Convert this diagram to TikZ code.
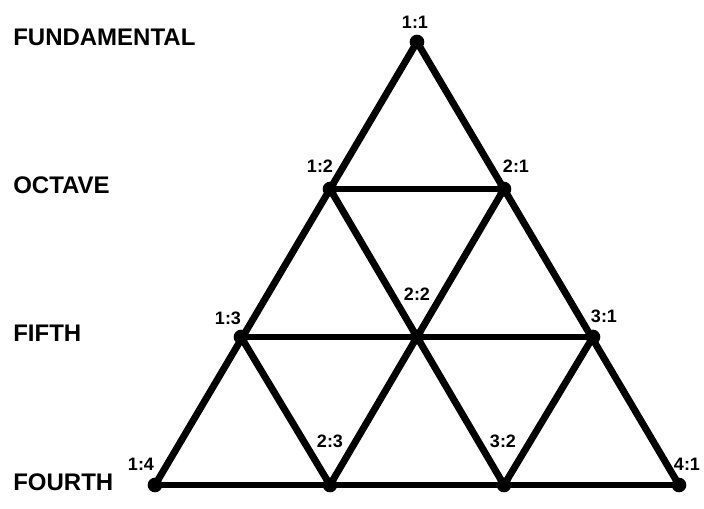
\documentclass[tikz,border=0pt]{standalone}
\usepackage{fontspec}
\setmainfont{Liberation Sans}
\begin{document}
\begin{tikzpicture}[x=0.75pt, y=-0.75pt,
  dot/.style={circle, fill=black, inner sep=0pt, minimum size=11pt},
  edge/.style={line width=5.2pt},
  ratio/.style={font=\fontsize{13.5}{15}\selectfont\bfseries, inner sep=0pt},
  level/.style={font=\fontsize{18}{20}\selectfont\bfseries, inner sep=0pt, anchor=west}]
\useasboundingbox (0,0) rectangle (704,508);

% Row names
\node[level] (fund) at (13,37.5) {FUNDAMENTAL};
\node[level] (oct) at (13,185) {OCTAVE};
\node[level] (fifth) at (13,333) {FIFTH};
\node[level] (fourth) at (13,482) {FOURTH};

% Points (a:b) with label offset
\foreach \a/\b/\x/\y/\dx/\dy in {
  1/1/417/42/-2/-20,
  1/2/330/189/-10/-23,
  2/1/504/189/12/-23,
  1/3/241/337/-13/-19,
  2/2/417/337/0/-43,
  3/1/593/337/11/-21,
  1/4/155/485/-14/-21,
  2/3/330/485/0/-44,
  3/2/504/485/-1/-44,
  4/1/679/485/8/-21
} {
  \node[dot] (v\a\b) at (\x,\y) {};
  \node[ratio] (t\a\b) at (\x+\dx,\y+\dy) {\a:\b};
}

% Lines
\draw[edge] (v11.center) -- (v14.center);
\draw[edge] (v11.center) -- (v41.center);
\draw[edge] (v12.center) -- (v21.center);
\draw[edge] (v13.center) -- (v31.center);
\draw[edge] (v14.center) -- (v41.center);
\draw[edge] (v12.center) -- (v32.center);
\draw[edge] (v21.center) -- (v23.center);
\draw[edge] (v13.center) -- (v23.center);
\draw[edge] (v31.center) -- (v32.center);
\end{tikzpicture}
\end{document}
